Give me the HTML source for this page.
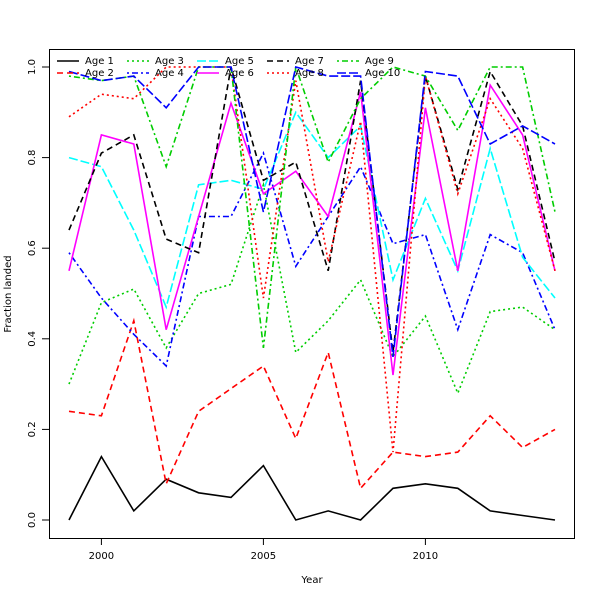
<!DOCTYPE html>
<html><head><meta charset="utf-8"><style>
html,body{margin:0;padding:0;background:#fff;}
svg text{font-family:"DejaVu Sans","Liberation Sans",sans-serif;font-size:10px;fill:#000;}
</style></head><body>
<svg id="s" width="600" height="600" xmlns="http://www.w3.org/2000/svg">
<rect x="0" y="0" width="600" height="600" fill="#fff"/>
<g id="lines"></g>
<rect x="49.5" y="49.5" width="525" height="489" fill="none" stroke="#000" stroke-width="1"/>
<g stroke="#000" stroke-width="1">
<line x1="101.4" y1="538" x2="101.4" y2="545"/><line x1="263.4" y1="538" x2="263.4" y2="545"/><line x1="425.4" y1="538" x2="425.4" y2="545"/>
<line x1="42" y1="520" x2="49" y2="520"/><line x1="42" y1="429.4" x2="49" y2="429.4"/><line x1="42" y1="338.8" x2="49" y2="338.8"/><line x1="42" y1="248.2" x2="49" y2="248.2"/><line x1="42" y1="157.6" x2="49" y2="157.6"/><line x1="42" y1="67" x2="49" y2="67"/>
</g>
<text x="101.4" y="559" text-anchor="middle">2000</text>
<text x="263.4" y="559" text-anchor="middle">2005</text>
<text x="425.4" y="559" text-anchor="middle">2010</text>
<g text-anchor="middle">
<text transform="translate(35,520) rotate(-90)">0.0</text>
<text transform="translate(35,429.4) rotate(-90)">0.2</text>
<text transform="translate(35,338.8) rotate(-90)">0.4</text>
<text transform="translate(35,248.2) rotate(-90)">0.6</text>
<text transform="translate(35,157.6) rotate(-90)">0.8</text>
<text transform="translate(35,67) rotate(-90)">1.0</text>
</g>
<text x="312" y="583" text-anchor="middle">Year</text>
<text transform="translate(11,294) rotate(-90)" text-anchor="middle">Fraction landed</text>
<g id="leg"></g>
<g>
<text x="85" y="64">Age 1</text><text x="85" y="76">Age 2</text>
<text x="155" y="64">Age 3</text><text x="155" y="76">Age 4</text>
<text x="225" y="64">Age 5</text><text x="225" y="76">Age 6</text>
<text x="295" y="64">Age 7</text><text x="295" y="76">Age 8</text>
<text x="365" y="64">Age 9</text><text x="365" y="76">Age 10</text>
</g>
</svg>
<script>
var data=[
[0,.14,.02,.09,.06,.05,.12,0,.02,0,.07,.08,.07,.02,.01,0],
[.24,.23,.44,.08,.24,.29,.34,.18,.37,.07,.15,.14,.15,.23,.16,.20],
[.30,.48,.51,.38,.50,.52,.74,.37,.44,.53,.36,.45,.28,.46,.47,.42],
[.59,.49,.41,.34,.67,.67,.81,.56,.67,.78,.61,.63,.42,.63,.59,.42],
[.80,.78,.64,.47,.74,.75,.73,.90,.80,.87,.53,.71,.55,.82,.58,.49],
[.55,.85,.83,.42,.67,.92,.72,.77,.67,.945,.32,.91,.55,.96,.85,.55],
[.64,.81,.85,.62,.59,1.0,.75,.79,.55,.97,.37,.98,.73,.99,.87,.57],
[.89,.94,.93,1.0,1.0,1.0,.49,.97,.57,.88,.15,.98,.72,.93,.82,.55],
[.98,.97,.98,.78,1.0,1.0,.38,1.0,.79,.93,1.0,.98,.86,1.0,1.0,.68],
[.99,.97,.98,.91,1.0,1.0,.68,1.0,.98,.98,.36,.99,.98,.83,.87,.83]];
var cols=["#000","#f00","#00cd00","#00f","#0ff","#f0f"];
var dash=["","6 4","2 3","2 3 6 3","9 3"];
var ns="http://www.w3.org/2000/svg";
var g=document.getElementById("lines"),lg=document.getElementById("leg");
for(var i=0;i<10;i++){
 var pts=data[i].map(function(v,j){return (69+j*32.4).toFixed(1)+","+(520-v*453).toFixed(1)}).join(" ");
 var p=document.createElementNS(ns,"polyline");
 p.setAttribute("points",pts);p.setAttribute("fill","none");
 p.setAttribute("stroke",cols[i%6]);p.setAttribute("stroke-width","1.6");
 if(dash[i%5])p.setAttribute("stroke-dasharray",dash[i%5]);
 g.appendChild(p);
 var c=Math.floor(i/2),r=i%2;
 var l=document.createElementNS(ns,"line");
 var x0=57+c*70,y0=61+r*12;
 l.setAttribute("x1",x0);l.setAttribute("x2",x0+22);l.setAttribute("y1",y0);l.setAttribute("y2",y0);
 l.setAttribute("stroke",cols[i%6]);l.setAttribute("stroke-width","1.6");
 if(dash[i%5])l.setAttribute("stroke-dasharray",dash[i%5]);
 lg.appendChild(l);
}
</script>
</body></html>
